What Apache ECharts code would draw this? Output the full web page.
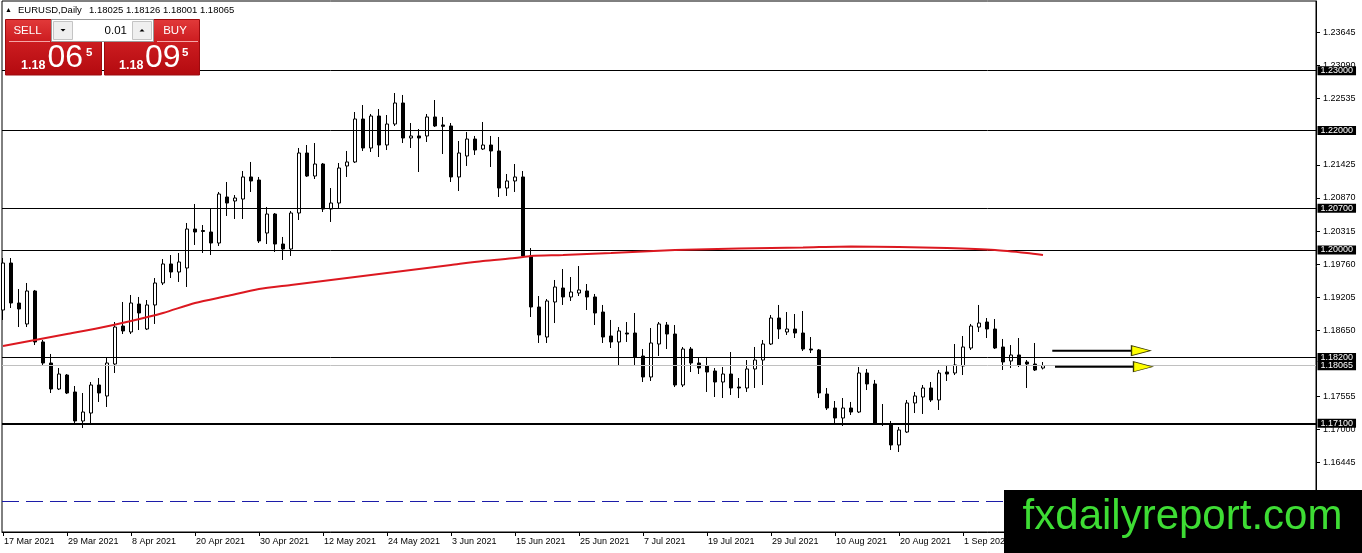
<!DOCTYPE html>
<html>
<head>
<meta charset="utf-8">
<script src="https://cdn.jsdelivr.net/npm/echarts@6/dist/echarts.min.js"></script>
<style>html,body{margin:0;padding:0;background:#fff;overflow:hidden}#c{width:1362px;height:553px}</style>
</head>
<body>
<div id="c"></div>
<script>
// ---- categories (trading days, EURUSD Daily) ----
const marDays = [17,18,19,22,23,24,25,26,29,30,31];
const aprDays = [1,2,5,6,7,8,9,12,13,14,15,16,19,20,21,22,23,26,27,28,29,30];
const mayDays = [3,4,5,6,7,10,11,12,13,14,17,18,19,20,21,24,25,26,27,28,31];
const junDays = [1,2,3,4,7,8,9,10,11,14,15,16,17,18,21,22,23,24,25,28,29,30];
const julDays = [1,2,5,6,7,8,9,12,13,14,15,16,19,20,21,22,23,26,27,28,29,30];
const augDays = [2,3,4,5,6,9,10,11,12,13,16,17,18,19,20,23,24,25,26,27,30,31];
const sepDays = [1,2,3,6,7,8,9,10,13,14,15];

// ---- tick labels ----
const xTickIdx = [0,8,16,24,32,40,48,56,64,72,80,88,96,104,112,120];
const xTickLabels = ['17 Mar 2021','29 Mar 2021','8 Apr 2021','20 Apr 2021','30 Apr 2021','12 May 2021','24 May 2021','3 Jun 2021','15 Jun 2021','25 Jun 2021','7 Jul 2021','19 Jul 2021','29 Jul 2021','10 Aug 2021','20 Aug 2021','1 Sep 2021'];
const yTicks = [1.23645,1.23090,1.22535,1.21425,1.20870,1.20315,1.19760,1.19205,1.18650,1.17555,1.17000,1.16445];

// ---- OHLC ----
const opens = [1.18996,1.19782,1.19113,1.18762,1.19314,1.18461,1.18109,1.17674,1.17908,1.17624,
1.17139,1.17272,1.17741,1.17557,1.18092,1.18728,1.18628,1.19096,1.18678,1.19080,
1.19448,1.19766,1.19632,1.19699,1.20351,1.20326,1.20301,1.20117,1.20887,1.20820,
1.20853,1.21222,1.21171,1.20284,1.20602,1.20100,1.20017,1.20619,1.21623,1.21238,
1.21439,1.20686,1.20786,1.21406,1.21473,1.22192,1.21707,1.22242,1.21757,1.22108,
1.22460,1.21874,1.21908,1.21908,1.22226,1.22092,1.22075,1.21222,1.21573,1.21857,
1.21690,1.21757,1.21657,1.21037,1.21155,1.21222,1.19900,1.19046,1.18544,1.19130,
1.19364,1.19214,1.19280,1.19314,1.19214,1.18962,1.18561,1.18461,1.18611,1.18611,
1.18226,1.17875,1.18427,1.18745,1.18594,1.17741,1.18343,1.18109,1.18059,1.17975,
1.17791,1.17925,1.17707,1.17691,1.18009,1.18159,1.18427,1.18862,1.18628,1.18678,
1.18611,1.18343,1.18327,1.17590,1.17356,1.17189,1.17356,1.17289,1.17942,1.17758,
1.17097,1.17088,1.16737,1.16954,1.17440,1.17540,1.17691,1.17490,1.17958,1.17942,
1.18059,1.18360,1.18711,1.18795,1.18678,1.18377,1.18143,1.18243,1.18126,1.18092,
1.18025];
const closes = [1.19782,1.19113,1.19013,1.19314,1.18461,1.18109,1.17674,1.17925,1.17607,1.17139,
1.17289,1.17741,1.17607,1.18109,1.18711,1.18645,1.19113,1.18946,1.19080,1.19448,
1.19766,1.19632,1.19799,1.20351,1.20301,1.20310,1.20117,1.20937,1.20786,1.20870,
1.21222,1.21155,1.20151,1.20602,1.20100,1.20017,1.20619,1.21623,1.21238,1.21439,
1.20686,1.20786,1.21372,1.21473,1.22192,1.21707,1.22242,1.21757,1.22108,1.22460,
1.21874,1.21908,1.21874,1.22226,1.22075,1.22070,1.21222,1.21623,1.21857,1.21673,
1.21757,1.21657,1.21037,1.21155,1.21222,1.19900,1.19046,1.18578,1.19147,1.19381,
1.19214,1.19297,1.19331,1.19214,1.18946,1.18544,1.18461,1.18645,1.18594,1.18210,
1.17875,1.18444,1.18762,1.18594,1.17741,1.18343,1.18109,1.18025,1.17958,1.17791,
1.17925,1.17691,1.17691,1.18009,1.18159,1.18427,1.18862,1.18678,1.18678,1.18611,
1.18343,1.18327,1.17607,1.17356,1.17189,1.17356,1.17289,1.17942,1.17758,1.17088,
1.17080,1.16737,1.16988,1.17440,1.17557,1.17691,1.17490,1.17942,1.17925,1.18076,
1.18377,1.18728,1.18778,1.18678,1.18360,1.18126,1.18243,1.18076,1.18092,1.17992,
1.18065];
const highs = [1.19866,1.19866,1.19347,1.19448,1.19331,1.18494,1.18260,1.18025,1.17925,1.17724,
1.17607,1.17791,1.17858,1.18193,1.18795,1.19130,1.19247,1.19214,1.19163,1.19531,
1.19849,1.19916,1.19950,1.20452,1.20770,1.20418,1.20686,1.20971,1.21138,1.20920,
1.21322,1.21473,1.21222,1.20720,1.20619,1.20218,1.20653,1.21707,1.21757,1.21790,
1.21456,1.21037,1.21456,1.21657,1.22309,1.22426,1.22276,1.22359,1.22259,1.22627,
1.22594,1.22125,1.22025,1.22276,1.22510,1.22226,1.22125,1.21824,1.21975,1.21908,
1.22142,1.21908,1.21891,1.21272,1.21439,1.21322,1.20033,1.19230,1.19180,1.19498,
1.19682,1.19548,1.19732,1.19431,1.19264,1.19080,1.18829,1.18711,1.18795,1.18946,
1.18343,1.18695,1.18795,1.18795,1.18745,1.18377,1.18377,1.18193,1.18210,1.18025,
1.18042,1.18293,1.17858,1.18159,1.18377,1.18494,1.18912,1.19080,1.18962,1.18929,
1.18979,1.18544,1.18343,1.17691,1.17473,1.17523,1.17457,1.18042,1.18009,1.17825,
1.17423,1.17139,1.17038,1.17490,1.17624,1.17741,1.17791,1.17992,1.18076,1.18427,
1.18561,1.18762,1.19080,1.18862,1.18845,1.18511,1.18410,1.18527,1.18159,1.18444,
1.18126];
const lows = [1.18829,1.19029,1.18711,1.18711,1.18410,1.18076,1.17607,1.17657,1.17590,1.17105,
1.17021,1.17105,1.17457,1.17373,1.17942,1.18594,1.18594,1.18661,1.18661,1.18762,
1.19414,1.19531,1.19465,1.19381,1.20084,1.19950,1.19916,1.20067,1.20569,1.20519,
1.20519,1.20971,1.20117,1.20100,1.19967,1.19833,1.19900,1.20502,1.21222,1.21188,
1.20636,1.20469,1.20686,1.21222,1.21456,1.21657,1.21640,1.21556,1.21673,1.22075,
1.21790,1.21707,1.21305,1.21807,1.22058,1.21606,1.21138,1.20987,1.21406,1.21590,
1.21673,1.21389,1.20887,1.20904,1.20971,1.19883,1.18879,1.18444,1.18444,1.18778,
1.19080,1.19147,1.19230,1.18996,1.18745,1.18444,1.18360,1.18059,1.18461,1.18059,
1.17791,1.17808,1.18226,1.18343,1.17707,1.17707,1.17958,1.17925,1.17624,1.17540,
1.17523,1.17574,1.17523,1.17624,1.17691,1.17741,1.18410,1.18511,1.18578,1.18527,
1.18310,1.18276,1.17523,1.17323,1.17105,1.17055,1.17239,1.17272,1.17657,1.17072,
1.17055,1.16653,1.16620,1.16938,1.17272,1.17256,1.17457,1.17323,1.17808,1.17908,
1.17908,1.18327,1.18628,1.18527,1.18343,1.17992,1.18025,1.18042,1.17691,1.17975,
1.18001];

// ---- moving average (read at sampled bars) ----
const maIdx = [0,4,8,12,16,20,24,28,32,36,40,44,48,52,56,60,64,66,70,76,84,92,100,106,112,118,124,128,130];
const maVals = [1.18394,1.18494,1.18594,1.18695,1.18812,1.18946,1.19113,1.19230,1.19347,1.19414,
1.19481,1.19548,1.19615,1.19682,1.19749,1.19816,1.19866,1.19900,1.19916,1.19950,
1.20000,1.20025,1.20042,1.20059,1.20050,1.20033,1.20000,1.19950,1.19916];

// ---- horizontal levels ----
const levelLines = [1.23000,1.22000,1.20700,1.20000,1.18200];
const supportLine = 1.17100;
const bidPrice = 1.18065;
const dashedLevel = 1.15800;

// ---- arrows ----
const arrowLevels = [1.18315,1.18047];
const arrowStart = [131.16,131.5];
const arrowHead = [142.25,142.5];

const dates = [];
[['Mar',marDays],['Apr',aprDays],['May',mayDays],['Jun',junDays],['Jul',julDays],['Aug',augDays],['Sep',sepDays]]
  .forEach(([m,ds]) => ds.forEach(d => dates.push(d + ' ' + m + ' 2021')));

const FONT = '"Liberation Sans", Arial, sans-serif';
const chart = echarts.init(document.getElementById('c'));
const candleData = opens.map((o,i) => [i, o, closes[i], lows[i], highs[i]]);
const maData = maIdx.map((x,i) => [x, maVals[i]]);

function boxLabel(){
  return {show:true, position:'end', distance:1.5, formatter:(p)=>Number(p.value).toFixed(5),
    color:'#fff', backgroundColor:'#000', fontSize:9, fontFamily:FONT, padding:[0,3,0,3], lineHeight:9};
}
const markData = levelLines.map(v => ({yAxis:v, lineStyle:{color:'#000',width:1,type:'solid'}, label:boxLabel()}));
markData.push({yAxis:supportLine, lineStyle:{color:'#000',width:2,type:'solid'}, label:boxLabel()});
markData.push({yAxis:bidPrice, lineStyle:{color:'#c0c0c0',width:1,type:'solid'}, label:boxLabel()});
markData.push({yAxis:dashedLevel, lineStyle:{color:'#1c1ca8',width:1,type:[17,7]}, label:{show:false}});

const redGrad = () => new echarts.graphic.LinearGradient(0,0,0,1,[{offset:0,color:'#e23a3a'},{offset:0.4,color:'#cc1c20'},{offset:1,color:'#b30a0f'}]);

const graphics = [
  // header
  {type:'text', z:50, style:{text:'▲', x:5, y:10, font:'7px '+FONT, fill:'#000', verticalAlign:'middle'}},
  {type:'text', z:50, style:{text:'EURUSD,Daily', x:18, y:10.5, font:'9.5px '+FONT, fill:'#000', verticalAlign:'middle'}},
  {type:'text', z:50, style:{text:'1.18025 1.18126 1.18001 1.18065', x:89, y:10.5, font:'9.5px '+FONT, fill:'#000', verticalAlign:'middle'}},
  // sell / buy blocks
  {type:'rect', z:50, shape:{x:5.5, y:19.5, width:96, height:55.5}, style:{fill:redGrad(), stroke:'#9c0a0e', lineWidth:1}},
  {type:'rect', z:50, shape:{x:104.5, y:19.5, width:95, height:55.5}, style:{fill:redGrad(), stroke:'#9c0a0e', lineWidth:1}},
  {type:'line', z:51, shape:{x1:9, y1:41.5, x2:50, y2:41.5}, style:{stroke:'rgba(255,200,200,0.8)', lineWidth:1}},
  {type:'line', z:51, shape:{x1:157, y1:41.5, x2:198, y2:41.5}, style:{stroke:'rgba(255,200,200,0.8)', lineWidth:1}},
  {type:'text', z:52, style:{text:'SELL', x:27.5, y:31, font:'11.5px '+FONT, fill:'#fff', align:'center', verticalAlign:'middle'}},
  {type:'text', z:52, style:{text:'BUY', x:175, y:31, font:'11.5px '+FONT, fill:'#fff', align:'center', verticalAlign:'middle'}},
  // lot control
  {type:'rect', z:53, shape:{x:51.5, y:19.5, width:102, height:22}, style:{fill:'#fff', stroke:'#9a9a9a', lineWidth:1}},
  {type:'rect', z:54, shape:{x:53.5, y:21.5, width:19, height:18}, style:{fill:'#efefef', stroke:'#c4c4c4', lineWidth:1}},
  {type:'rect', z:54, shape:{x:132.5, y:21.5, width:19, height:18}, style:{fill:'#efefef', stroke:'#c4c4c4', lineWidth:1}},
  {type:'polygon', z:55, shape:{points:[[60.5,29],[65.5,29],[63,31.5]]}, style:{fill:'#000'}},
  {type:'polygon', z:55, shape:{points:[[139.5,31.5],[144.5,31.5],[142,29]]}, style:{fill:'#000'}},
  {type:'text', z:55, style:{text:'0.01', x:127, y:31, font:'11.5px '+FONT, fill:'#000', align:'right', verticalAlign:'middle'}},
  // prices
  {type:'text', z:55, style:{text:'1.18', x:21, y:65.6, font:'bold 12.5px '+FONT, fill:'#fff', verticalAlign:'middle'}},
  {type:'text', z:55, style:{text:'06', x:47.5, y:58.5, font:'32px '+FONT, fill:'#fff', verticalAlign:'middle'}},
  {type:'text', z:55, style:{text:'5', x:86, y:52.8, font:'bold 11.5px '+FONT, fill:'#fff', verticalAlign:'middle'}},
  {type:'text', z:55, style:{text:'1.18', x:119, y:65.6, font:'bold 12.5px '+FONT, fill:'#fff', verticalAlign:'middle'}},
  {type:'text', z:55, style:{text:'09', x:145, y:58.5, font:'32px '+FONT, fill:'#fff', verticalAlign:'middle'}},
  {type:'text', z:55, style:{text:'5', x:182, y:52.8, font:'bold 11.5px '+FONT, fill:'#fff', verticalAlign:'middle'}},
  // logo
  {type:'rect', z:60, shape:{x:1004, y:490, width:358, height:63}, style:{fill:'#000'}},
  {type:'text', z:61, style:{text:'fxdailyreport.com', x:1182.5, y:517, font:'42px '+FONT, fill:'#3edc34', align:'center', verticalAlign:'middle'}}
];

const option = {
  animation:false,
  backgroundColor:'#fff',
  textStyle:{fontFamily:FONT},
  grid:{left:2, right:46, top:1, bottom:21, show:true, borderColor:'#000', borderWidth:1, backgroundColor:'#fff'},
  xAxis:{type:'value', min:-0.125, max:164.125,
    axisLine:{show:true, onZero:false, lineStyle:{color:'#000', width:1}},
    axisTick:{show:true, length:4, customValues:xTickIdx, lineStyle:{color:'#000'}},
    axisLabel:{show:true, customValues:xTickIdx, formatter:(v)=>{const k=xTickIdx.indexOf(Math.round(v)); return k>=0?xTickLabels[k]:dates[Math.round(v)]||'';},
      align:'left', margin:5, fontSize:9, color:'#000', fontFamily:FONT, padding:[0,0,0,1]},
    splitLine:{show:false}},
  yAxis:{type:'value', position:'right', min:1.152811, max:1.241667, scale:true,
    axisLine:{show:true, onZero:false, lineStyle:{color:'#000', width:1}},
    axisTick:{show:true, length:4, customValues:yTicks, lineStyle:{color:'#000'}},
    axisLabel:{show:true, customValues:yTicks, formatter:(v)=>Number(v).toFixed(5), fontSize:9, color:'#000', margin:7, fontFamily:FONT},
    splitLine:{show:false}},
  series:[
    {type:'candlestick', name:'EURUSD', data:candleData, encode:{x:0, y:[1,2,3,4]}, barWidth:4, z:2, silent:true,
      itemStyle:{color:'#fff', color0:'#000', borderColor:'#000', borderColor0:'#000', borderColorDoji:'#000', borderWidth:1}},
    {type:'line', name:'levels', data:[], z:3, silent:true,
      markLine:{silent:true, precision:5, symbol:['none','none'], animation:false, data:markData}},
    {type:'line', name:'MA', data:maData, showSymbol:false, smooth:0.25, z:5, silent:true,
      lineStyle:{color:'#dc1820', width:2}},
    {type:'line', name:'arrow1', data:[[arrowStart[0],arrowLevels[0]],[arrowHead[0],arrowLevels[0]]], showSymbol:false, z:6, silent:true,
      lineStyle:{color:'#000', width:2}},
    {type:'line', name:'arrow2', data:[[arrowStart[1],arrowLevels[1]],[arrowHead[1],arrowLevels[1]]], showSymbol:false, z:6, silent:true,
      lineStyle:{color:'#000', width:2}},
    {type:'scatter', name:'heads', data:[[arrowHead[0],arrowLevels[0]],[arrowHead[1],arrowLevels[1]]], symbol:'triangle', symbolRotate:-90,
      symbolSize:[10,19], z:7, silent:true, itemStyle:{color:'#ffff00', borderColor:'#3a3a00', borderWidth:1, opacity:1}}
  ],
  graphic:{elements:graphics}
};
chart.setOption(option);
</script>
</body>
</html>
